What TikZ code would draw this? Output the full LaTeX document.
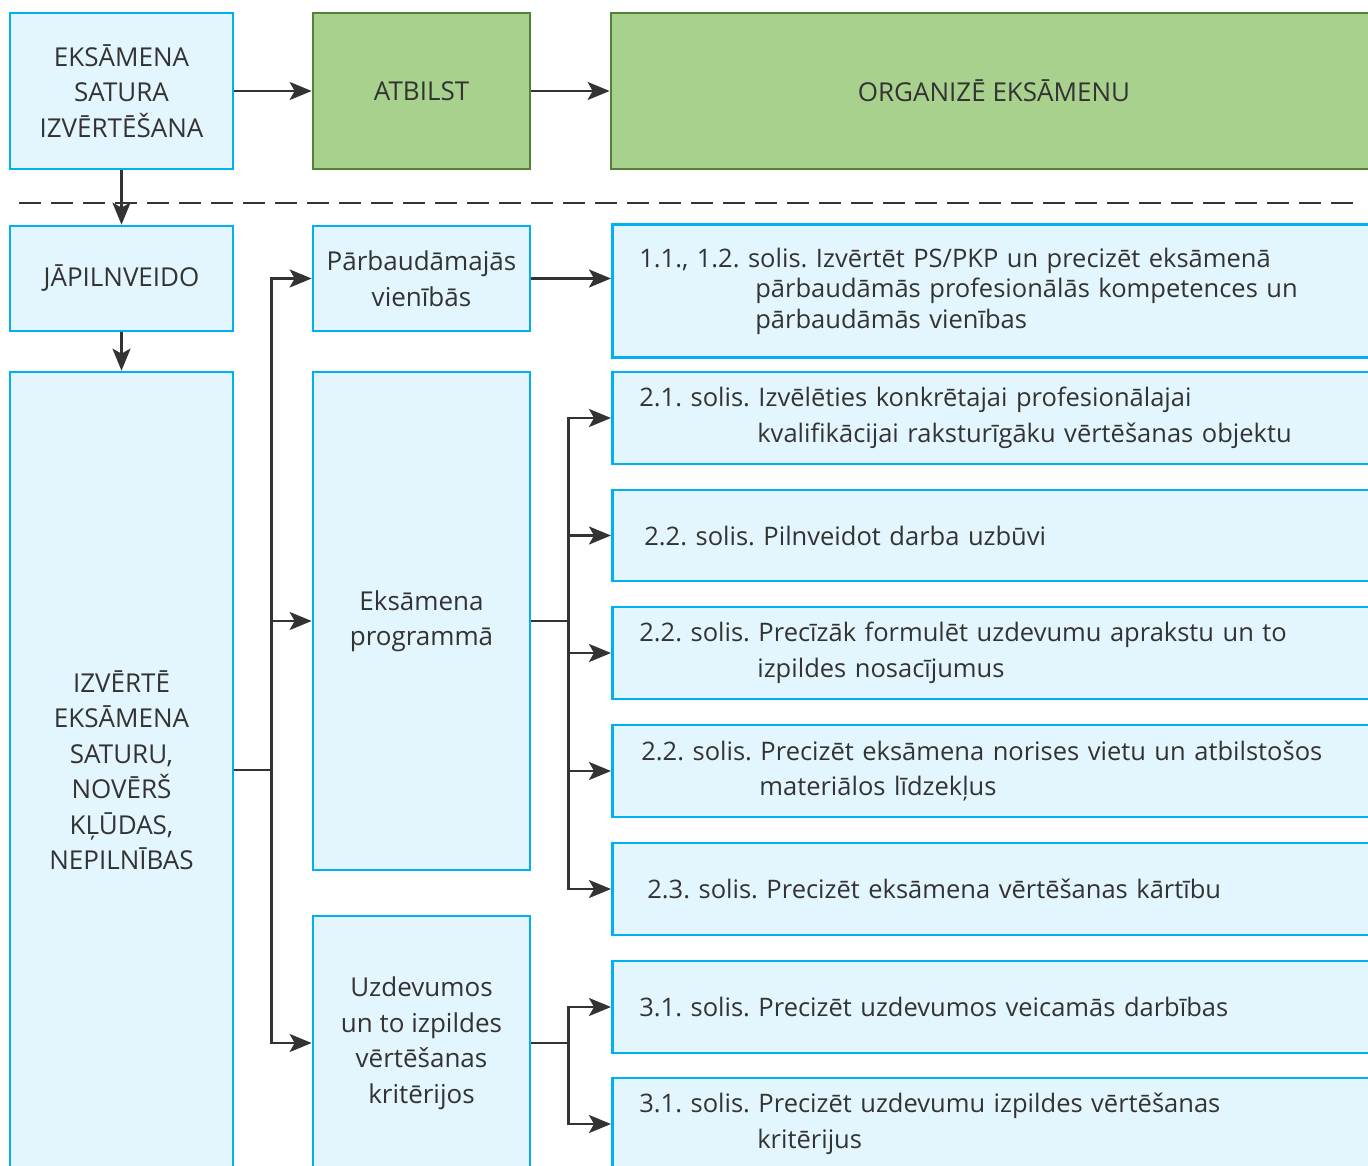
\documentclass[tikz,border=0pt]{standalone}
\usepackage{fontspec}
\setmainfont{Open Sans}
\usetikzlibrary{arrows.meta}
\definecolor{bfill}{HTML}{E3F6FD}
\definecolor{bline}{HTML}{00B0F0}
\definecolor{gfill}{HTML}{A9D18E}
\definecolor{gline}{HTML}{538135}
\definecolor{txt}{HTML}{333333}
\definecolor{arr}{HTML}{333333}
\frenchspacing
\begin{document}
\begin{tikzpicture}[x=1pt,y=-1pt,
  box/.style={draw=bline, fill=bfill, line width=2.7pt, rectangle, inner sep=0pt, text=txt, align=center, font=\fontsize{26}{35.5}\selectfont},
  gbox/.style={box, draw=gline, fill=gfill},
  rbox/.style={box, align=left, anchor=west, text width=712pt, inner xsep=27pt, minimum height=#1, font=\fontsize{25.5}{35.5}\selectfont},
  conn/.style={draw=arr, line width=2.5pt, -{Stealth[length=22pt,width=18pt,inset=5pt]}},
  wire/.style={draw=arr, line width=2.5pt},
  dline/.style={draw=arr, line width=2.5pt, dash pattern=on 22pt off 10pt}
]
\useasboundingbox (0,0) rectangle (1368,1166);
\clip (0,0) rectangle (1368,1166);

% top row
\node[box, minimum width=223pt, minimum height=156pt] (a) at (121.5,91) {EKSĀMENA\\SATURA\\IZVĒRTĒŠANA};
\node[gbox, minimum width=217pt, minimum height=156pt] (atb) at (421.5,91) {ATBILST};
\node[gbox, minimum width=766pt, minimum height=156pt] (org) at (994,91) {ORGANIZĒ EKSĀMENU};

\draw[dline] (19,203) -- (1362,203);

% left column
\node[box, minimum width=223pt, minimum height=105pt] (jap) at (121.5,278.5) {JĀPILNVEIDO};
\node[box, minimum width=223pt, minimum height=796pt] (izv) at (121.5,770) {IZVĒRTĒ\\EKSĀMENA\\SATURU,\\NOVĒRŠ\\KĻŪDAS,\\NEPILNĪBAS};

% middle column
\node[box, minimum width=217pt, minimum height=105pt] (parb) at (421.5,278.5) {Pārbaudāmajās\\vienībās};
\node[box, minimum width=217pt, minimum height=498pt] (eks) at (421.5,621) {Eksāmena\\programmā};
\node[box, minimum width=217pt, minimum height=254pt] (uzd) at (421.5,1043) {Uzdevumos\\un to izpildes\\vērtēšanas\\kritērijos};

% right column
\node[rbox=133pt] (r1) at (611,291) {1.1., 1.2. solis. Izvērtēt PS/PKP un precizēt eksāmenā\\[-5pt]\hspace*{116pt}pārbaudāmās profesionālās kompetences un\\[-5pt]\hspace*{116pt}pārbaudāmās vienības};
\node[rbox=92pt] (r2) at (611,418) {2.1. solis. Izvēlēties konkrētajai profesionālajai\\\hspace*{118pt}kvalifikācijai raksturīgāku vērtēšanas objektu};
\node[rbox=91pt] (r3) at (611,535.5) {\hspace*{5pt}2.2. solis. Pilnveidot darba uzbūvi};
\node[rbox=92pt] (r4) at (611,653) {2.2. solis. Precīzāk formulēt uzdevumu aprakstu un to\\\hspace*{118pt}izpildes nosacījumus};
\node[rbox=92pt] (r5) at (611,771) {\hspace*{2pt}2.2. solis. Precizēt eksāmena norises vietu un atbilstošos\\\hspace*{120pt}materiālos līdzekļus};
\node[rbox=92pt] (r6) at (611,889) {\hspace*{8pt}2.3. solis. Precizēt eksāmena vērtēšanas kārtību};
\node[rbox=92pt] (r7) at (611,1007) {3.1. solis. Precizēt uzdevumos veicamās darbības};
\node[rbox=92pt] (r8) at (611,1124) {3.1. solis. Precizēt uzdevumu izpildes vērtēšanas\\\hspace*{118pt}kritērijus};

% connectors
\draw[conn] (a) -- (atb);
\draw[conn] (atb) -- (org);
\draw[conn] (a) -- (jap);
\draw[conn] (jap) -- (izv);

\draw[wire] (izv.east) -- ++(37,0) coordinate (j1);
\draw[conn] (j1) |- (parb);
\draw[conn] (j1) |- (eks);
\draw[conn] (j1) |- (uzd);

\draw[conn] (parb.east) -- (parb.east -| r1.west);

\draw[wire] (eks.east) -- ++(37,0) coordinate (j2);
\draw[conn] (j2) |- (r2);
\draw[conn] (j2) |- (r3);
\draw[conn] (j2) |- (r4);
\draw[conn] (j2) |- (r5);
\draw[conn] (j2) |- (r6);

\draw[wire] (uzd.east) -- ++(37,0) coordinate (j3);
\draw[conn] (j3) |- (r7);
\draw[conn] (j3) |- (r8);
\end{tikzpicture}
\end{document}
